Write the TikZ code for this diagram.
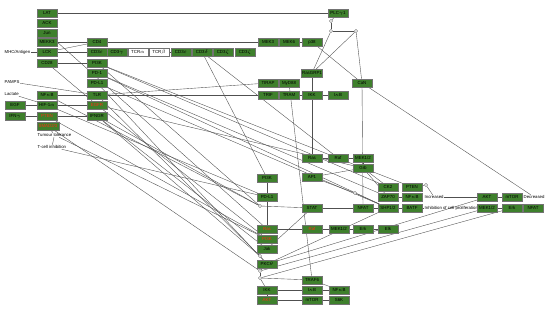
\documentclass[tikz,border=0pt]{standalone}
\usepackage{fontspec}
\setmainfont{Liberation Sans}
\usetikzlibrary{backgrounds}
\definecolor{gf}{RGB}{62,128,44}
\definecolor{rt}{RGB}{255,45,20}
\definecolor{ln}{RGB}{80,80,80}
\begin{document}
\begin{tikzpicture}[x=1pt,y=-1pt,
  gn/.style={draw=black!55, fill=gf, minimum width=20pt, minimum height=7.5pt, inner sep=0pt, line width=0.4pt, font=\fontsize{4.4}{5}\selectfont},
  wn/.style={gn, fill=white},
  rn/.style={gn, text=rt},
  lb/.style={inner sep=0.5pt, font=\fontsize{4.3}{5}\selectfont, anchor=west},
  gate/.style={circle, draw=black!60, fill=white, minimum size=3.2pt, inner sep=0pt, line width=0.35pt},
  ed/.style={draw=ln, line width=0.38pt}]
\useasboundingbox (0,0) rectangle (554,311);
% ---------- text labels ----------
\node[lb] (MHC) at (4,52) {MHC/Antigen};
\node[lb] (PAMPS) at (4,82) {PAMPS};
\node[lb] (Lac) at (4,94) {Lactate};
\node[lb] (TT) at (37,135) {Tumour tolerance};
\node[lb] (TCI) at (37,147) {T-cell inhibition};
\node[lb] (Inc) at (424,197) {Increased};
\node[lb] (Dec) at (523,197) {Decreased};
\node[lb] (Inh) at (424,208) {Inhibition of cell proliferation};
% ---------- left column ----------
\node[gn] (LAT) at (47,13) {LAT};
\node[gn] (ACK) at (47,23) {ACK};
\node[gn] (Jun) at (47,33) {Jun};
\node[gn] (MEKK3) at (47,42) {MEKK3};
\node[gn] (LCK) at (47,52) {LCK};
\node[gn] (CD28) at (47,63) {CD28};
\node[gn] (NFkBl) at (47,95) {NF$\kappa$B};
\node[gn] (HIF) at (47,105) {HIF-1$\alpha$};
\node[rn] (PTENl) at (47,116) {PTEN};
\node[rn, minimum width=22pt] (SMAD) at (48,126) {SMAD2/3};
\node[gn] (EGF) at (15,105) {EGF};
\node[gn] (IFNy) at (15,116) {IFN$\gamma$};
% ---------- middle column ----------
\node[gn] (CD4) at (97,42) {CD4};
\node[gn] (CD3e) at (97,52) {CD3$\varepsilon$};
\node[gn] (PI3Ku) at (97,63) {PI3K};
\node[gn] (PD1) at (97,73) {PD-1};
\node[gn] (PDL1u) at (97,83) {PD-L1};
\node[gn] (TLR) at (97,95) {TLR};
\node[rn] (EGFR) at (97,105) {EGFR};
\node[gn] (IFNGR) at (97,116) {IFNGR};
% ---------- TCR row ----------
\node[gn] (CD3g) at (117,52) {CD3$\gamma$};
\node[wn] (TCRa) at (138,52) {TCR$\alpha$};
\node[wn] (TCRb) at (159,52) {TCR$\beta$};
\node[gn] (CD3e2) at (181,52) {CD3$\varepsilon$};
\node[gn] (CD3d) at (202,52) {CD3$\delta$};
\node[gn] (CD3z1) at (223,52) {CD3$\zeta$};
\node[gn] (CD3z2) at (245,52) {CD3$\zeta$};
% ---------- top right ----------
\node[gn] (MEK3) at (268,42) {MEK3};
\node[gn] (MEK6) at (289,42) {MEK6};
\node[gn] (P38) at (312,42) {p38};
\node[gn] (PLC) at (338,13) {PLC$\gamma$1};
\node[gate] (g1) at (331,21) {};
\node[gate] (g2) at (331,31) {};
\node[gate] (g3) at (356,31) {};
\node[gn, minimum width=21pt] (RasGRP) at (312,73) {RasGRP1};
\node[gn] (TIRAP) at (268,83) {TIRAP};
\node[gn] (MyD88) at (289,83) {MyD88};
\node[gn] (CaN) at (362,83) {CaN};
\node[gn] (TRIF) at (268,95) {TRIF};
\node[gn] (TRAM) at (289,95) {TRAM};
\node[gn] (IKKu) at (312,95) {IKK};
\node[gn] (IkBu) at (338,95) {I$\kappa$B};
% ---------- middle ----------
\node[gn] (Ras) at (312,158) {Ras};
\node[gn] (Raf) at (338,158) {Raf};
\node[gn] (MEK12) at (363,158) {MEK1/2};
\node[gn] (Grb) at (363,168) {Grb};
\node[gn] (AP1) at (312,177) {AP1};
\node[gn] (PI3Kl) at (267,178) {PI3K};
\node[gn] (PDL1l) at (267,197) {PD-L1};
\node[gate] (g0) at (260,206) {};
\node[gn] (STAT) at (312,208) {STAT};
\node[gn] (NFAT) at (363,208) {NFAT};
\node[gate] (g4) at (355,193) {};
% ---------- right cluster ----------
\node[gn] (CK2) at (388,187) {CK2};
\node[gn] (PTENr) at (412,187) {PTEN};
\node[gate] (g5) at (426,185) {};
\node[gn] (ZAP70) at (388,197) {ZAP70};
\node[gn] (NFkBr) at (412,197) {NF$\kappa$B};
\node[gn] (SHP12) at (388,208) {SHP1/2};
\node[gn] (BATF) at (412,208) {BATF};
\node[gn] (AKTr) at (487,197) {AKT};
\node[gn] (mTORr) at (512,197) {mTOR};
\node[gn] (MEK12r) at (487,208) {MEK1/2};
\node[gn] (Erkr) at (512,208) {Erk};
\node[gn] (NFATr) at (533,208) {NFAT};
% ---------- lower column ----------
\node[rn] (Rasr) at (267,229) {Ras};
\node[rn] (Rafr) at (312,229) {Raf};
\node[gn] (MEK12l) at (339,229) {MEK1/2};
\node[gn] (Erkl) at (363,229) {Erk};
\node[gn] (Elk) at (388,229) {Elk};
\node[rn] (PI3Kr) at (267,239) {PI3K};
\node[gn] (Jak) at (267,249) {Jak};
\node[gate] (g6) at (260,256) {};
\node[gn] (PKC) at (267,264) {PKC$\theta$};
\node[gate] (g7) at (260,271) {};
\node[gate] (g8) at (260,278) {};
\node[gn] (TRAF6) at (312,280) {TRAF6};
\node[gn] (IKKl) at (267,290) {IKK};
\node[gn] (IkBl) at (312,290) {I$\kappa$B};
\node[gn] (NFkBl2) at (339,290) {NF$\kappa$B};
\node[rn] (AKTl) at (267,300) {AKT};
\node[gn] (mTORl) at (312,300) {mTOR};
\node[gn] (S6K) at (339,300) {S6K};
% ---------- connectors ----------
\begin{scope}[on background layer]
\draw[ed] (LAT) -- (PLC);
\draw[ed] (MEKK3) -- (CD4);
\draw[ed] (CD4) -- (MEK3);
\draw[ed] (MEK3) -- (MEK6);
\draw[ed] (MEK6) -- (P38);
\draw[ed] (MHC) -- (LCK);
\draw[ed] (LCK) -- (CD3e);
\draw[ed] (CD3e) -- (CD3g);
\draw[ed] (TCRb) -- (CD3e2);
\draw[ed] (LCK) -- (CD4);
\draw[ed] (CD28) -- (PI3Ku);
\draw[ed] (PLC) -- (g1);
\draw[ed] (g1) -- (g2);
\draw[ed] (g2) -- (g3);
\draw[ed] (g2) -- (RasGRP);
\draw[ed] (g3) -- (RasGRP);
\draw[ed] (g3) -- (CaN);
\draw[ed] (P38) -- (CaN);
\draw[ed] (CaN) -- (Dec);
\draw[ed] (CaN) -- (NFAT);
\draw[ed] (PAMPS) -- (TLR);
\draw[ed] (TLR) -- (TIRAP);
\draw[ed] (TIRAP) -- (MyD88);
\draw[ed] (TLR) -- (TRIF);
\draw[ed] (TRIF) -- (TRAM);
\draw[ed] (TRAM) -- (IKKu);
\draw[ed] (IKKu) -- (IkBu);
\draw[ed] (TLR) -- (NFkBl);
\draw[ed] (MyD88) -- (TRAF6);
\draw[ed] (RasGRP) -- (Ras);
\draw[ed] (Ras) -- (Raf);
\draw[ed] (Raf) -- (MEK12);
\draw[ed] (MEK12) -- (Grb);
\draw[ed] (CD3d) -- (PI3Kl);
\draw[ed] (CD3d) -- (Raf);
\draw[ed] (Jun) -- (Rasr);
\draw[ed] (Lac) -- (HIF);
\draw[ed] (EGF) -- (HIF);
\draw[ed] (HIF) -- (EGFR);
\draw[ed] (IFNy) -- (PTENl);
\draw[ed] (PTENl) -- (IFNGR);
\draw[ed] (SMAD) -- (TT);
\draw[ed] (TT) -- (TCI);
\draw[ed] (CD28) -- (EGFR);
\draw[ed] (Grb) -- (AP1);
\draw[ed] (Grb) -- (ZAP70);
\draw[ed] (Grb) -- (CK2);
\draw[ed] (Grb) -- (PTENr);
\draw[ed] (PTENr) -- (g5);
\draw[ed] (g5) -- (Inc);
\draw[ed] (ZAP70) -- (NFkBr);
\draw[ed] (Inc) -- (AKTr);
\draw[ed] (AKTr) -- (mTORr);
\draw[ed] (mTORr) -- (Dec);
\draw[ed] (SHP12) -- (BATF);
\draw[ed] (BATF) -- (Inh);
\draw[ed] (MEK12r) -- (Erkr);
\draw[ed] (Erkr) -- (NFATr);
\draw[ed] (AP1) -- (g4);
\draw[ed] (g4) -- (SHP12);
\draw[ed] (g0) -- (STAT);
\draw[ed] (STAT) -- (NFAT);
\draw[ed] (NFAT) -- (SHP12);
\draw[ed] (PI3Kl) -- (PDL1l);
\draw[ed] (PDL1l) -- (Rasr);
\draw[ed] (Jak) -- (STAT);
\draw[ed] (Rasr) -- (Rafr);
\draw[ed] (Rafr) -- (MEK12l);
\draw[ed] (MEK12l) -- (Erkl);
\draw[ed] (Erkl) -- (Elk);
\draw[ed] (g6) -- (PKC);
\draw[ed] (PKC) -- (g7);
\draw[ed] (g7) -- (g8);
\draw[ed] (g8) -- (TRAF6);
\draw[ed] (g8) -- (IKKl);
\draw[ed] (IKKl) -- (AKTl);
\draw[ed] (IKKl) -- (IkBl);
\draw[ed] (IkBl) -- (NFkBl2);
\draw[ed] (AKTl) -- (mTORl);
\draw[ed] (mTORl) -- (S6K);
\draw[ed] (TRAF6) -- (NFkBl2);
\draw[ed] (PKC) -- (AKTr);
\draw[ed] (PKC) -- (SHP12);
\draw[ed] (g7) -- (MEK12r);
\draw[ed] (g8) -- (Erkr);
\draw[ed] (IFNGR) -- (g0);
\draw[ed] (IFNGR) -- (Jak);
\draw[ed] (IFNGR) -- (g6);
\draw[ed] (EGFR) -- (Grb);
\draw[ed] (EGFR) -- (PI3Kr);
\draw[ed] (HIF) -- (PDL1l);
\draw[ed] (NFkBl) -- (g0);
\draw[ed] (SMAD) -- (g7);
\draw[ed] (TT) -- (PI3Kr);
\draw[ed] (TCI) -- (PDL1l);
\draw[ed] (PTENl) -- (PI3Kr);
\draw[ed] (PI3Ku) -- (CK2);
\draw[ed] (PD1) -- (ZAP70);
\draw[ed] (PD1) -- (SHP12);
\draw[ed] (PDL1u) -- (SHP12);
\draw[ed] (PI3Ku) -- (Grb);
\draw[ed] (PDL1u) -- (PKC);
\draw[ed] (TLR) -- (g6);
\draw[ed] (PI3Ku) -- (g0);
\end{scope}
\end{tikzpicture}
\end{document}
